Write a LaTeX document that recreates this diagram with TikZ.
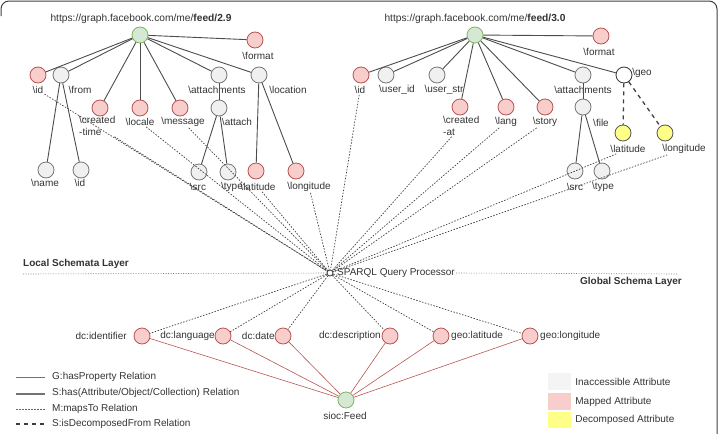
\documentclass[tikz,border=0pt]{standalone}
\usepackage{fontspec}
\setmainfont{Liberation Sans}
\usetikzlibrary{calc,positioning}
\definecolor{mapfill}{HTML}{F8CECC}
\definecolor{mapline}{HTML}{B85450}
\definecolor{inafill}{HTML}{F0F0F0}
\definecolor{inaline}{HTML}{777777}
\definecolor{rootfill}{HTML}{D5E8D4}
\definecolor{rootline}{HTML}{82B366}
\definecolor{decfill}{HTML}{FFFF88}
\definecolor{decline}{HTML}{555555}
\definecolor{txt}{HTML}{333333}
\newcommand{\bksl}{\textbackslash}
\tikzset{attr/.style={circle,draw,minimum size=16pt,inner sep=0pt,line width=.8pt},
  mapped/.style={attr,fill=mapfill,draw=mapline},
  inacc/.style={attr,fill=inafill,draw=inaline},
  decomp/.style={attr,fill=decfill,draw=decline},
  rootnd/.style={attr,fill=rootfill,draw=rootline},
  lbl/.style={inner sep=1pt,text=txt},
  urllbl/.style={lbl,font=\fontsize{10.2}{12}\selectfont},
  hasrel/.style={draw=black!70,line width=.9pt},
  proprel/.style={draw=mapline,line width=.6pt},
  mapsrel/.style={draw=black!75,line width=.7pt,dash pattern=on 1.5pt off 1.5pt},
  decrel/.style={draw=black!75,line width=1.3pt,dash pattern=on 4pt off 4pt},
  layerln/.style={draw=black!50,line width=.6pt,dash pattern=on 1pt off 1.5pt}}

\begin{document}
\begin{tikzpicture}[x=1pt,y=-1pt]

\useasboundingbox (0,0) rectangle (721,434);
\draw[black!75,line width=1pt,rounded corners=8pt] (1,16) |- (717,1) -- (717,436);

% Local schema feed/2.9
\node[rootnd] (root1) at (140,35) {};
\node[urllbl] (url1) at (141,19) {https://graph.facebook.com/me/\textbf{feed/2.9}};
\node[mapped] (fmt1) at (255,40) {};
\node[mapped] (id1) at (38,75) {};
\node[inacc] (from1) at (61,75) {};
\node[mapped] (crt1) at (100,108) {};
\node[mapped] (loc1) at (140,108) {};
\node[mapped] (msg1) at (180,108) {};
\node[inacc] (att1) at (219,75) {};
\node[inacc] (lcn1) at (259,75) {};
\node[inacc] (atc1) at (219,108) {};
\node[inacc] (nam1) at (46,170) {};
\node[inacc] (idb1) at (81,170) {};
\node[inacc] (src1) at (199,172) {};
\node[inacc] (typ1) at (228,172) {};
\node[mapped] (lat1) at (256,171) {};
\node[mapped] (lon1) at (296,171) {};

\node[lbl] (fmt1-l) at (258,56) {\bksl format};
\node[lbl] (id1-l) at (38,90) {\bksl id};
\node[lbl] (from1-l) at (80,90) {\bksl from};
\node[lbl,align=left,anchor=north west] (crt1-l) at (78,115) {\bksl created\\-time};
\node[lbl] (loc1-l) at (140,122) {\bksl locale};
\node[lbl] (msg1-l) at (183,122) {\bksl message};
\node[lbl] (att1-l) at (217,90) {\bksl attachments};
\node[lbl] (lcn1-l) at (288,90) {\bksl location};
\node[lbl] (atc1-l) at (237,122) {\bksl attach};
\node[lbl] (nam1-l) at (45,183) {\bksl name};
\node[lbl] (idb1-l) at (80,183) {\bksl id};
\node[lbl] (src1-l) at (198,187) {\bksl src};
\node[lbl] (typ1-l) at (232,187) {\bksl type};
\node[lbl] (lat1-l) at (258,187) {\bksl latitude};
\node[lbl] (lon1-l) at (309,187) {\bksl longitude};

\foreach \c in {fmt1,id1,from1,crt1,loc1,msg1,att1,lcn1}
  \draw[hasrel] (root1) -- (\c);
\draw[hasrel] (from1) -- (nam1);
\draw[hasrel] (from1) -- (idb1);
\draw[hasrel] (att1) -- (atc1);
\draw[hasrel] (atc1) -- (src1);
\draw[hasrel] (atc1) -- (typ1);
\draw[hasrel] (lcn1) -- (lat1);
\draw[hasrel] (lcn1) -- (lon1);

% Local schema feed/3.0
\node[rootnd] (root2) at (475,35) {};
\node[urllbl] (url2) at (475,19) {https://graph.facebook.com/me/\textbf{feed/3.0}};
\node[mapped] (fmt2) at (601,36) {};
\node[mapped] (id2) at (361,75) {};
\node[inacc] (uid2) at (386,75) {};
\node[inacc] (ust2) at (437,75) {};
\node[mapped] (crt2) at (460,107) {};
\node[mapped] (lng2) at (506,107) {};
\node[mapped] (sto2) at (545,107) {};
\node[inacc] (att2) at (583,75) {};
\node[attr,fill=white,draw=black!80] (geo2) at (624,75) {};
\node[inacc] (fil2) at (583,107) {};
\node[decomp] (lat2) at (623,133) {};
\node[decomp] (lon2) at (665,133) {};
\node[inacc] (src2) at (575,171) {};
\node[inacc] (typ2) at (602,171) {};

\node[lbl] (fmt2-l) at (599,52) {\bksl format};
\node[lbl] (id2-l) at (360,90) {\bksl id};
\node[lbl] (uid2-l) at (397,90) {\bksl user\_id};
\node[lbl] (ust2-l) at (444,90) {\bksl user\_str};
\node[lbl,align=left,anchor=north west] (crt2-l) at (442,115) {\bksl created\\-at};
\node[lbl] (lng2-l) at (506,122) {\bksl lang};
\node[lbl] (sto2-l) at (545,122) {\bksl story};
\node[lbl] (att2-l) at (583,90) {\bksl attachments};
\node[lbl] (geo2-l) at (642,73) {\bksl geo};
\node[lbl] (fil2-l) at (601,123) {\bksl file};
\node[lbl] (lat2-l) at (628,149) {\bksl latitude};
\node[lbl] (lon2-l) at (684,149) {\bksl longitude};
\node[lbl] (src2-l) at (575,187) {\bksl src};
\node[lbl] (typ2-l) at (603,187) {\bksl type};

\foreach \c in {fmt2,id2,uid2,ust2,crt2,lng2,sto2,att2,geo2}
  \draw[hasrel] (root2) -- (\c);
\draw[hasrel] (att2) -- (fil2);
\draw[hasrel] (fil2) -- (src2);
\draw[hasrel] (fil2) -- (typ2);
\draw[decrel] (geo2) -- (lat2);
\draw[decrel] (geo2) -- (lon2);

% Query processor and layers
\node[circle,draw=black!80,fill=white,line width=.8pt,minimum size=6pt,inner sep=0pt] (sparql) at (330,273) {};
\node[lbl,anchor=west] (sparql-l) at (336,273) {SPARQL Query Processor};
\coordinate (layerL) at (23,274);
\coordinate (layerR) at (678,274);
\draw[layerln] (layerL) -- (sparql);
\draw[layerln] (sparql-l.east) -- (layerR);
\node[lbl,anchor=west,font=\bfseries] (local-l) at (22,264) {Local Schemata Layer};
\node[lbl,anchor=east,font=\bfseries] (global-l) at (683,282) {Global Schema Layer};

% Mappings
\foreach \c in {id1-l,crt1-l,loc1-l,msg1-l,lat1-l,lon1-l,id2-l,crt2-l,lng2-l,sto2-l,lat2-l,lon2-l}
  \draw[mapsrel] (\c) -- (sparql);

% Global schema
\node[rootnd] (feed) at (346,400) {};
\node[lbl] (feed-l) at (345,416) {sioc:Feed};
\node[mapped] (gid) at (142,336) {};
\node[mapped] (glang) at (223,336) {};
\node[mapped] (gdate) at (283,336) {};
\node[mapped] (gdesc) at (390,336) {};
\node[mapped] (glat) at (441,336) {};
\node[mapped] (glon) at (530,336) {};
\node[lbl,anchor=east] (gid-l) at (128,336) {dc:identifier};
\node[lbl,anchor=east] (glang-l) at (216,336) {dc:language};
\node[lbl,anchor=east] (gdate-l) at (276,336) {dc:date};
\node[lbl,anchor=east] (gdesc-l) at (382,336) {dc:description};
\node[lbl,anchor=west] (glat-l) at (450,336) {geo:latitude};
\node[lbl,anchor=west] (glon-l) at (539,336) {geo:longitude};

\foreach \c in {gid,glang,gdate,gdesc,glat,glon} {
  \draw[mapsrel] (sparql) -- (\c);
  \draw[proprel] (feed) -- (\c);
}

% Legend
\coordinate (k1a) at (16,377); \coordinate (k1b) at (45,377);
\coordinate (k2a) at (16,394); \coordinate (k2b) at (45,394);
\coordinate (k3a) at (16,409); \coordinate (k3b) at (45,409);
\coordinate (k4a) at (16,424); \coordinate (k4b) at (45,424);
\draw[proprel] (k1a) -- (k1b);
\draw[draw=black!55,line width=1.4pt] (k2a) -- (k2b);
\draw[mapsrel,draw=black!60] (k3a) -- (k3b);
\draw[decrel] (k4a) -- (k4b);
\node[lbl,anchor=west] (k1-t) at (51,377) {G:hasProperty Relation};
\node[lbl,anchor=west] (k2-t) at (51,393) {S:has(Attribute/Object/Collection) Relation};
\node[lbl,anchor=west] (k3-t) at (51,409) {M:mapsTo Relation};
\node[lbl,anchor=west] (k4-t) at (51,424) {S:isDecomposedFrom Relation};

\node[fill=inafill!70,minimum width=23pt,minimum height=17pt,inner sep=0pt] (q1) at (559.5,381.5) {};
\node[fill=mapfill,minimum width=23pt,minimum height=17pt,inner sep=0pt] (q2) at (559.5,401.5) {};
\node[fill=decfill,minimum width=23pt,minimum height=16pt,inner sep=0pt] (q3) at (559.5,420) {};
\node[lbl,right=3pt of q1] (q1-t) {Inaccessible Attribute};
\node[lbl,right=3pt of q2] (q2-t) {Mapped Attribute};
\node[lbl,right=3pt of q3] (q3-t) {Decomposed Attribute};

\end{tikzpicture}
\end{document}
